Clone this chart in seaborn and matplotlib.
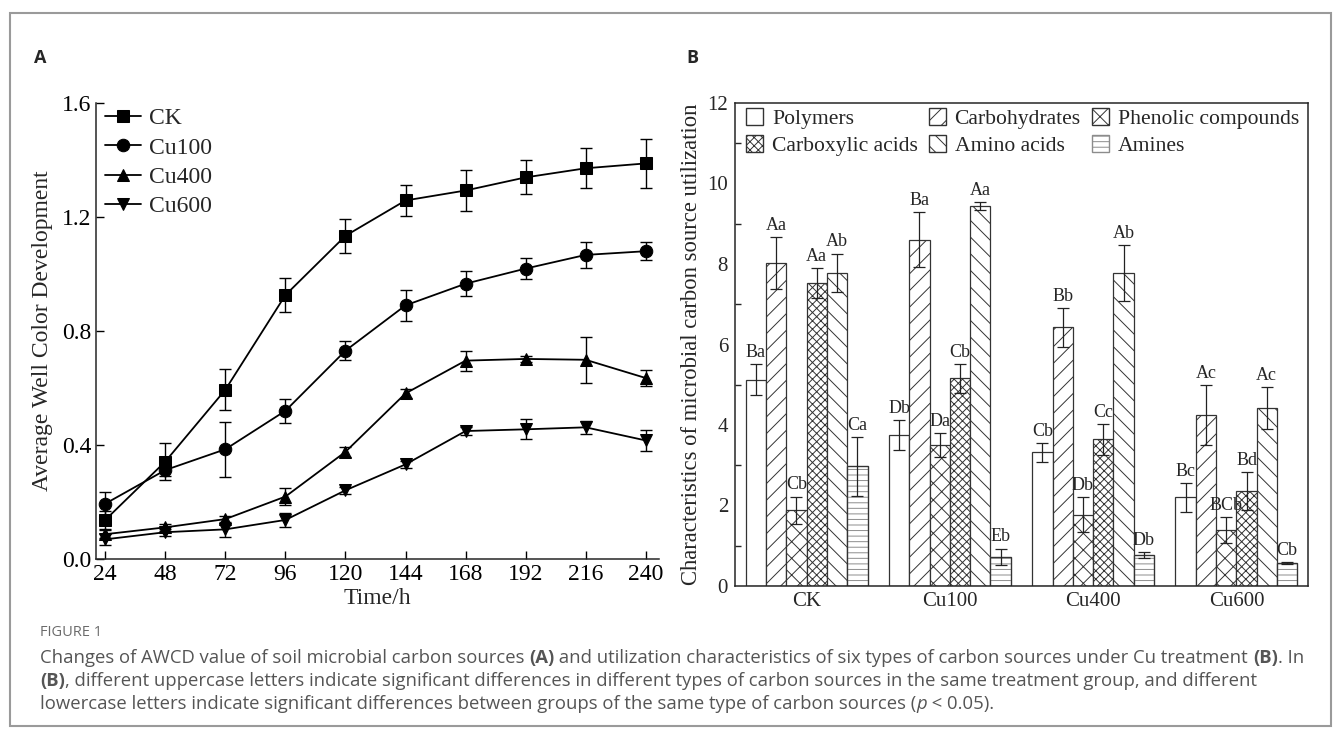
import numpy as np
import pandas as pd
import seaborn as sns
import matplotlib.pyplot as plt
import matplotlib.patches as mpatches
from matplotlib.ticker import MultipleLocator

# ---- Panel A data: AWCD over time ----
time_h = [24, 48, 72, 96, 120, 144, 168, 192, 216, 240]
ck = [0.137, 0.342, 0.594, 0.926, 1.134, 1.258, 1.293, 1.339, 1.371, 1.388]
ck_err = [0.03, 0.065, 0.072, 0.06, 0.06, 0.055, 0.073, 0.06, 0.07, 0.086]
cu100 = [0.194, 0.312, 0.385, 0.520, 0.731, 0.890, 0.966, 1.019, 1.067, 1.080]
cu100_err = [0.04, 0.02, 0.096, 0.043, 0.033, 0.054, 0.043, 0.037, 0.046, 0.032]
cu400 = [0.087, 0.111, 0.140, 0.219, 0.376, 0.581, 0.696, 0.702, 0.699, 0.635]
cu400_err = [0.015, 0.012, 0.012, 0.03, 0.018, 0.017, 0.035, 0.012, 0.08, 0.028]
cu600 = [0.069, 0.094, 0.104, 0.137, 0.241, 0.332, 0.449, 0.455, 0.462, 0.416]
cu600_err = [0.02, 0.012, 0.026, 0.026, 0.012, 0.012, 0.015, 0.035, 0.023, 0.037]

# ---- Panel B data: carbon source utilization ----
treatments = ['CK', 'Cu100', 'Cu400', 'Cu600']
source_types = ['Polymers', 'Carbohydrates', 'Phenolic compounds',
                'Carboxylic acids', 'Amino acids', 'Amines']
polymers = [5.13, 3.75, 3.32, 2.20]
polymers_err = [0.38, 0.37, 0.23, 0.35]
carbohydrates = [8.03, 8.60, 6.43, 4.25]
carbohydrates_err = [0.64, 0.68, 0.48, 0.74]
phenolic = [1.88, 3.50, 1.77, 1.40]
phenolic_err = [0.34, 0.29, 0.43, 0.32]
carboxylic = [7.53, 5.16, 3.64, 2.35]
carboxylic_err = [0.37, 0.36, 0.38, 0.47]
amino = [7.78, 9.44, 7.78, 4.42]
amino_err = [0.48, 0.10, 0.69, 0.52]
amines = [2.97, 0.73, 0.77, 0.57]
amines_err = [0.73, 0.20, 0.07, 0.02]
letters = [['Ba', 'Db', 'Cb', 'Bc'],
           ['Aa', 'Ba', 'Bb', 'Ac'],
           ['Cb', 'Da', 'Db', 'BCb'],
           ['Aa', 'Cb', 'Cc', 'Bd'],
           ['Ab', 'Aa', 'Ab', 'Ac'],
           ['Ca', 'Eb', 'Db', 'Cb']]

sns.set_style('ticks')
plt.rcParams['font.family'] = ['Liberation Serif', 'DejaVu Serif']
plt.rcParams['hatch.linewidth'] = 0.7

fig = plt.figure(figsize=(13.35, 7.36), dpi=100)
W, H = 1335, 736

def ax_rect(x0, y0, x1, y1):
    return [x0 / W, 1 - y1 / H, (x1 - x0) / W, (y1 - y0) / H]

# ---------------- Panel A ----------------
axA = fig.add_axes(ax_rect(96, 103, 659, 559))
series = {'CK': (ck, ck_err), 'Cu100': (cu100, cu100_err),
          'Cu400': (cu400, cu400_err), 'Cu600': (cu600, cu600_err)}
dfA = pd.concat([pd.DataFrame({'time': time_h, 'awcd': v, 'treatment': k})
                 for k, (v, e) in series.items()])
sns.lineplot(data=dfA, x='time', y='awcd', hue='treatment', style='treatment',
             markers=['s', 'o', '^', 'v'], dashes=False,
             palette=['black'] * 4, markersize=9, linewidth=1.3,
             markeredgecolor='black', ax=axA)
for k, (v, e) in series.items():
    axA.errorbar(time_h, v, yerr=e, fmt='none', ecolor='black',
                 elinewidth=1, capsize=4, capthick=1)

axA.set_xlim(20.3, 245.3)
axA.set_ylim(0, 1.6)
axA.set_xticks(time_h)
axA.yaxis.set_major_locator(MultipleLocator(0.4))
axA.yaxis.set_major_formatter(plt.FormatStrFormatter('%.1f'))
axA.tick_params(direction='in', length=6, width=1, labelsize=17, colors='black')
axA.set_xlabel('Time/h', fontsize=17, labelpad=2)
axA.set_ylabel('Average Well Color Development', fontsize=17, labelpad=6)
sns.despine(ax=axA)
for s in axA.spines.values():
    s.set_linewidth(1.1)
axA.legend(loc='upper left', frameon=False, fontsize=17, handlelength=1.5,
           handletextpad=0.35, labelspacing=0.33, borderaxespad=0.0,
           bbox_to_anchor=(0.0, 1.01))

# ---------------- Panel B ----------------
axB = fig.add_axes(ax_rect(735, 103, 1308, 586))
values = [polymers, carbohydrates, phenolic, carboxylic, amino, amines]
errors = [polymers_err, carbohydrates_err, phenolic_err, carboxylic_err, amino_err, amines_err]
dfB = pd.concat([pd.DataFrame({'treatment': treatments, 'value': v, 'type': t})
                 for t, v in zip(source_types, values)])
sns.barplot(data=dfB, x='treatment', y='value', hue='type', order=treatments,
            hue_order=source_types, palette=['white'] * 6, width=0.85,
            edgecolor='#333333', linewidth=0.9, errorbar=None, legend=False, ax=axB)
hatches = ['', '//', 'xx', 'xxxx', '\\\\', '---']
hatch_edges = ['#333333'] * 5 + ['#8c8c8c']
for cont, hatch, hc, errs, labs in zip(axB.containers, hatches, hatch_edges, errors, letters):
    for bar, e, lab in zip(cont, errs, labs):
        bar.set_hatch(hatch)
        bar.set_edgecolor(hc)
        if hc != '#333333':
            axB.add_patch(mpatches.Rectangle(bar.get_xy(), bar.get_width(), bar.get_height(),
                                             fill=False, edgecolor='#333333', linewidth=0.9))
        xc = bar.get_x() + bar.get_width() / 2
        top = bar.get_height()
        axB.errorbar(xc, top, yerr=e, fmt='none', ecolor='#222222',
                     elinewidth=0.9, capsize=4, capthick=0.9)
        axB.text(xc, top + e + 0.08, lab, ha='center', va='bottom', fontsize=13)

axB.set_xlim(-0.5, 3.5)
axB.set_ylim(0, 12)
axB.yaxis.set_major_locator(MultipleLocator(2))
axB.yaxis.set_minor_locator(MultipleLocator(1))
axB.tick_params(axis='y', which='major', length=0, labelsize=15, pad=5)
axB.tick_params(axis='y', which='minor', direction='in', length=4, width=1)
axB.tick_params(axis='x', length=0, labelsize=15, pad=4)
axB.set_xlabel('')
axB.set_ylabel('Characteristics of microbial carbon source utilization',
               fontsize=16.3, labelpad=4)
for s in axB.spines.values():
    s.set_linewidth(1.1)

leg_handles = [mpatches.Patch(facecolor='white', edgecolor=hc, hatch=h, label=t)
               for t, h, hc in zip(source_types, hatches, hatch_edges)]
order = [0, 3, 1, 4, 2, 5]
axB.legend([leg_handles[i] for i in order], [source_types[i] for i in order],
           ncol=3, loc='upper left', frameon=False, fontsize=15.6,
           handlelength=0.8, handleheight=0.8, handletextpad=0.4,
           columnspacing=0.5, labelspacing=0.3, borderaxespad=0.1,
           bbox_to_anchor=(0.0, 1.012))

# ---------------- Frame, panel letters, caption ----------------
fig.patches.append(mpatches.Rectangle((10 / W, 1 - 726 / H), 1321 / W, 713 / H,
                                      transform=fig.transFigure, fill=False,
                                      edgecolor='#9a9a9a', linewidth=1.5))
fig.text(34 / W, 1 - 58 / H, 'A', fontsize=13, fontweight='bold',
         family=['Open Sans', 'DejaVu Sans'], va='center')
fig.text(686 / W, 1 - 58 / H, 'B', fontsize=13, fontweight='bold',
         family=['Open Sans', 'DejaVu Sans'], va='center')
fig.text(40 / W, 1 - 633 / H, 'FIGURE 1', fontsize=10.5, color='#6b6b6b',
         family=['Open Sans', 'DejaVu Sans'], va='center')

renderer = fig.canvas.get_renderer()

def rich_line(x_px, y_px, parts):
    x = x_px / W
    for txt, weight, style in parts:
        t = fig.text(x, 1 - y_px / H, txt, fontsize=13.3, color='#555555',
                     fontweight=weight, fontstyle=style,
                     family=['Open Sans', 'DejaVu Sans'], va='center')
        x += t.get_window_extent(renderer).width / W

n, b, i = 'normal', 'bold', 'italic'
rich_line(40, 658, [('Changes of AWCD value of soil microbial carbon sources ', n, 'normal'),
                    ('(A)', b, 'normal'),
                    (' and utilization characteristics of six types of carbon sources under Cu treatment ', n, 'normal'),
                    ('(B)', b, 'normal'), ('. In', n, 'normal')])
rich_line(40, 681, [('(B)', b, 'normal'),
                    (', different uppercase letters indicate significant differences in different types of carbon sources in the same treatment group, and different', n, 'normal')])
rich_line(40, 704, [('lowercase letters indicate significant differences between groups of the same type of carbon sources (', n, 'normal'),
                    ('p', n, 'italic'), (' < 0.05).', n, 'normal')])

fig.savefig('out.png', dpi=100)
